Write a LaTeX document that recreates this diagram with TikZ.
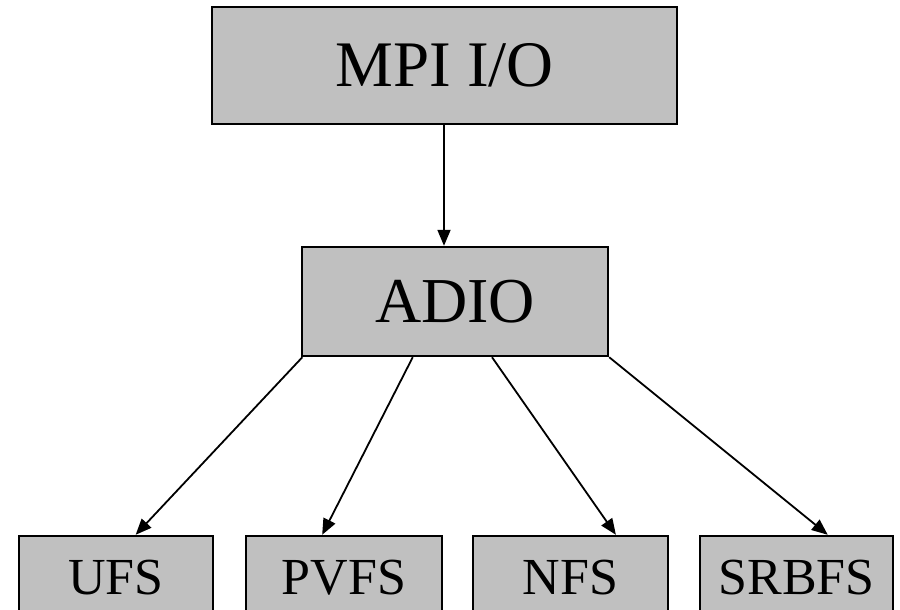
\documentclass[tikz,border=0pt]{standalone}
\usepackage{fontspec}
\setmainfont{Liberation Serif}
\usetikzlibrary{arrows.meta,calc}
\definecolor{boxgray}{RGB}{192,192,192}
\tikzset{
  blk/.style={draw=black, line width=2.4pt, fill=boxgray, inner sep=0pt, anchor=center},
  conn/.style={line width=1.8pt, -{Triangle[length=16pt,width=13pt]}, shorten >=0pt}
}
\begin{document}
\begin{tikzpicture}[x=1pt,y=-1pt]
\useasboundingbox (0,0) rectangle (900,610);
\clip (0,0) rectangle (900,610);
\node[blk, minimum width=465pt, minimum height=117pt, font=\fontsize{65}{70}\selectfont] (mpi) at (444.5,65.5) {MPI I/O};
\node[blk, minimum width=306pt, minimum height=109pt, font=\fontsize{64}{70}\selectfont] (adio) at (455,301.5) {ADIO};
\node[blk, minimum width=194pt, minimum height=84pt, font=\fontsize{52}{58}\selectfont] (ufs) at (116,578) {UFS};
\node[blk, minimum width=196pt, minimum height=84pt, font=\fontsize{52}{58}\selectfont] (pvfs) at (344,578) {PVFS};
\node[blk, minimum width=195pt, minimum height=84pt, font=\fontsize{52}{58}\selectfont] (nfs) at (570.5,578) {NFS};
\node[blk, minimum width=193pt, minimum height=84pt, font=\fontsize{52}{58}\selectfont] (srbfs) at (796.5,578) {SRBFS};
\draw[conn] (mpi.south -| 444,0) -- (adio.north -| 444,0);
\draw[conn] ($(adio.south west)!0.005!(adio.south east)$) -- ($(ufs.north west)!0.6!(ufs.north east)$);
\draw[conn] ($(adio.south west)!0.363!(adio.south east)$) -- ($(pvfs.north west)!0.39!(pvfs.north east)$);
\draw[conn] ($(adio.south west)!0.62!(adio.south east)$) -- ($(nfs.north west)!0.73!(nfs.north east)$);
\draw[conn] (adio.south east) -- ($(srbfs.north west)!0.66!(srbfs.north east)$);
\end{tikzpicture}
\end{document}
